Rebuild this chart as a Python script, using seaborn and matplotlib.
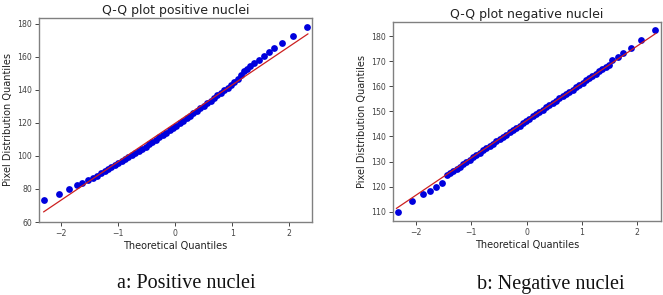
import matplotlib
matplotlib.use("Agg")
import matplotlib.pyplot as plt
import seaborn as sns
import pandas as pd

# ---------------- data ----------------
# Panel a: positive nuclei
pos_theoretical = [-2.30, -2.04, -1.86, -1.72, -1.63, -1.53, -1.45, -1.37,
                   -1.30, -1.24, -1.18, -1.12, -1.06, -1.00, -0.94, -0.88, -0.82,
                   -0.76, -0.70, -0.64, -0.58, -0.52, -0.46, -0.40, -0.34, -0.28,
                   -0.22, -0.16, -0.10, -0.04, 0.02, 0.08, 0.14, 0.20, 0.26, 0.32,
                   0.38, 0.44, 0.50, 0.56, 0.62, 0.68, 0.74, 0.80, 0.86, 0.92,
                   0.98, 1.04, 1.10, 1.15, 1.20,
                   1.26, 1.32, 1.39, 1.47, 1.55, 1.65, 1.74, 1.88, 2.06, 2.32]
pos_sample = [73.1, 77.2, 79.8, 82.2, 83.4, 85.3, 86.7, 88.1,
              89.8, 90.8, 92.0, 93.2, 94.3, 95.5, 96.7, 97.9, 99.1,
              100.4, 101.7, 103.0, 104.3, 105.6, 107.0, 108.4, 109.8, 111.2,
              112.6, 114.0, 115.5, 116.9, 118.4, 119.8, 121.3, 122.8, 124.3, 125.8,
              127.3, 128.8, 130.3, 131.9, 133.5, 135.0, 136.6, 138.2, 139.8, 141.4,
              143.0, 144.7, 146.5, 149.0, 151.3,
              152.9, 154.5, 156.4, 158.2, 160.2, 162.8, 165.3, 168.5, 172.5, 178.2]
pos_fit_x = [-2.31, 2.33]
pos_fit_y = [66.1, 173.9]

# Panel b: negative nuclei
neg_theoretical = [-2.33, -2.07, -1.88, -1.75, -1.65, -1.54,
                   -1.45, -1.39, -1.33, -1.27, -1.21, -1.15, -1.09, -1.03, -0.97,
                   -0.91, -0.85, -0.79, -0.73, -0.67, -0.61, -0.55, -0.49, -0.43,
                   -0.37, -0.31, -0.25, -0.19, -0.13, -0.07, -0.01, 0.05, 0.11,
                   0.17, 0.23, 0.29, 0.35, 0.41, 0.47, 0.53, 0.59, 0.65, 0.71,
                   0.77, 0.83, 0.89, 0.95, 1.01, 1.07, 1.13, 1.19, 1.25, 1.31,
                   1.37, 1.43,
                   1.48, 1.55, 1.66, 1.75, 1.89, 2.06, 2.33]
neg_sample = [110.0, 114.3, 116.9, 118.4, 120.0, 121.6,
              124.6, 125.4, 126.2, 127.1, 128.0, 128.9, 129.9, 130.8, 131.7,
              132.6, 133.5, 134.4, 135.3, 136.2, 137.1, 138.0, 138.9, 139.8,
              140.7, 141.6, 142.5, 143.4, 144.3, 145.2, 146.1, 147.1, 148.0,
              148.9, 149.8, 150.7, 151.6, 152.5, 153.4, 154.3, 155.2, 156.1,
              156.9, 157.8, 158.7, 159.6, 160.5, 161.4, 162.3, 163.2, 164.1,
              165.0, 166.0, 166.9, 167.8,
              168.6, 170.4, 171.5, 173.3, 175.3, 178.3, 182.3]
neg_fit_x = [-2.36, 2.34]
neg_fit_y = [111.3, 181.1]

titles = ["Q-Q plot positive nuclei", "Q-Q plot negative nuclei"]
captions = ["a: Positive nuclei", "b: Negative nuclei"]
xlabel = "Theoretical Quantiles"
ylabel = "Pixel Distribution Quantiles"
pos_yticks = [60, 80, 100, 120, 140, 160, 180]
neg_yticks = [110, 120, 130, 140, 150, 160, 170, 180]
xticks = [-2, -1, 0, 1, 2]

# ---------------- drawing ----------------
sns.set_style("ticks")
plt.rcParams["font.family"] = ["DejaVu Sans"]

fig = plt.figure(figsize=(6.63, 2.95), dpi=100)
ax1 = fig.add_axes([39 / 663, 1 - 222 / 295, 273 / 663, 204 / 295])
ax2 = fig.add_axes([393 / 663, 1 - 221 / 295, 268 / 663, 199 / 295])

panels = [
    (ax1, pos_theoretical, pos_sample, pos_fit_x, pos_fit_y, pos_yticks, (-2.39, 2.40), (60, 183.5)),
    (ax2, neg_theoretical, neg_sample, neg_fit_x, neg_fit_y, neg_yticks, (-2.42, 2.43), (106.3, 185.6)),
]

for i, (ax, tx, sy, fx, fy, yt, xl, yl) in enumerate(panels):
    pts = pd.DataFrame({"x": tx, "y": sy})
    fit = pd.DataFrame({"x": fx, "y": fy})
    sns.scatterplot(data=pts, x="x", y="y", ax=ax, color="#0000dd", s=24,
                    edgecolor="#0000dd", linewidth=0, zorder=2)
    sns.lineplot(data=fit, x="x", y="y", ax=ax, color="#cc2020", linewidth=0.9,
                 zorder=3)
    ax.set_xlim(*xl)
    ax.set_ylim(*yl)
    ax.set_xticks(xticks)
    ax.set_xticklabels(["\u22122", "\u22121", "0", "1", "2"])
    ax.set_yticks(yt)
    ax.tick_params(labelsize=5.6, length=3, width=0.7, colors="#444444", pad=2)
    for sp in ax.spines.values():
        sp.set_color("#808080")
        sp.set_linewidth(1.0)
    ax.set_title(titles[i], fontsize=9, pad=3, color="#222222")
    ax.set_xlabel(xlabel, fontsize=7, labelpad=2, color="#222222")
    ax.set_ylabel(ylabel, fontsize=7, labelpad=3, color="#222222")

fig.text(186 / 663, 1 - 284 / 295, captions[0], ha="center", va="center",
         fontsize=14.5, family="Liberation Serif", color="#111111")
fig.text(551 / 663, 1 - 284 / 295, captions[1], ha="center", va="center",
         fontsize=14.5, family="Liberation Serif", color="#111111")

fig.savefig("out.png", dpi=100)
